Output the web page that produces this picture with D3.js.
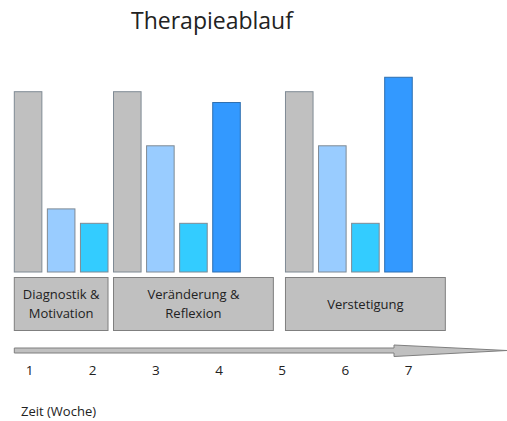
<!DOCTYPE html>
<head>
  <meta charset="utf-8">
  <script src="https://d3js.org/d3.v7.min.js"></script>
  <style>
    body { margin: 0; background: #fff; }
    svg { display: block; }
    text { font-family: "Open Sans", sans-serif; fill: #222; }
  </style>
</head>

<body>
<script type='text/javascript'>

// phases of the therapy: name lines, first slot, number of slots
var phaseNames = [["Diagnostik &", "Motivation"], ["Veränderung &", "Reflexion"], ["Verstetigung"]];
var phaseStart = [0, 3, 8.2];
var phaseSpan  = [3, 5, 5];

// bars per phase (relative height, gray = 100)
var barKinds = ["grau", "hellblau", "cyan", "blau"];
var barValues = [
  [100, 35, 27],
  [100, 70, 27, 94],
  [100, 70, 27, 108]
];

var weeks = [1, 2, 3, 4, 5, 6, 7];

var colors = { grau: "#c0c0c0", hellblau: "#99ccff", cyan: "#33ccff", blau: "#3399ff" };

var width = 507, height = 421;

var svg = d3.select("body").append("svg")
  .attr("width", width)
  .attr("height", height);

// scales
var x = d3.scaleLinear().domain([0, 1]).range([14.3, 47.37]);
var slotGap = 5.5;
var y = d3.scaleLinear().domain([0, 100]).range([272, 91.7]);
var xWeek = d3.scaleLinear().domain([1, 7]).range([29, 408]);

// title
svg.append("text")
  .attr("x", 212).attr("y", 29)
  .attr("text-anchor", "middle")
  .style("font-size", "23px")
  .text("Therapieablauf");

// bars
var bars = [];
barValues.forEach(function(vals, p) {
  vals.forEach(function(v, i) {
    bars.push({ slot: phaseStart[p] + i, value: v, kind: barKinds[i] });
  });
});

svg.append("g").selectAll("rect")
  .data(bars)
  .enter().append("rect")
  .attr("x", d => x(d.slot))
  .attr("y", d => y(d.value))
  .attr("width", x(1) - x(0) - slotGap)
  .attr("height", d => y(0) - y(d.value))
  .attr("fill", d => colors[d.kind])
  .attr("stroke", d => d.kind == "blau" ? "#2f6fb0" : "#7f8a94")
  .attr("stroke-width", 1);

// phase boxes
var phases = phaseNames.map((n, i) => ({ name: n, start: phaseStart[i], span: phaseSpan[i] }));

var box = svg.append("g").selectAll("g")
  .data(phases)
  .enter().append("g");

box.append("rect")
  .attr("x", d => x(d.start))
  .attr("y", 277.5)
  .attr("width", d => x(d.start + d.span) - x(d.start) - slotGap)
  .attr("height", 53)
  .attr("fill", "#c0c0c0")
  .attr("stroke", "#7f7f7f");

box.append("text")
  .attr("text-anchor", "middle")
  .style("font-size", "13px")
  .selectAll("tspan")
  .data(d => d.name.map((t, i) => ({ t: t, i: i, n: d.name.length, d: d })))
  .enter().append("tspan")
  .attr("x", e => (x(e.d.start) + x(e.d.start + e.d.span) - slotGap) / 2)
  .attr("y", e => 304 + (e.i - (e.n - 1) / 2) * 18.6 + 4.5)
  .text(e => e.t);

// time arrow
var ax0 = x(0), ax1 = 394, axTip = width, ay = 350.5;
svg.append("path")
  .attr("d", "M" + ax0 + "," + (ay - 2.5) + "H" + ax1 + "V" + (ay - 5.5) +
             "L" + axTip + "," + ay + "L" + ax1 + "," + (ay + 6) + "V" + (ay + 2.5) +
             "H" + ax0 + "Z")
  .attr("fill", "#c0c0c0")
  .attr("stroke", "#7f7f7f")
  .attr("stroke-width", 1);

// week labels
var weekAxis = d3.axisBottom(xWeek).tickValues(weeks).tickFormat(d3.format("d"))
  .tickSize(0).tickPadding(0);
var wg = svg.append("g").attr("transform", "translate(0,365)").call(weekAxis);
wg.select(".domain").remove();
wg.selectAll("text")
  .style("font-family", "'Open Sans', sans-serif")
  .style("font-size", "13.5px")
  .attr("fill", "#222");

svg.append("text")
  .attr("x", 21).attr("y", 416)
  .style("font-size", "13px")
  .text("Zeit (Woche)");

</script>
</body>
